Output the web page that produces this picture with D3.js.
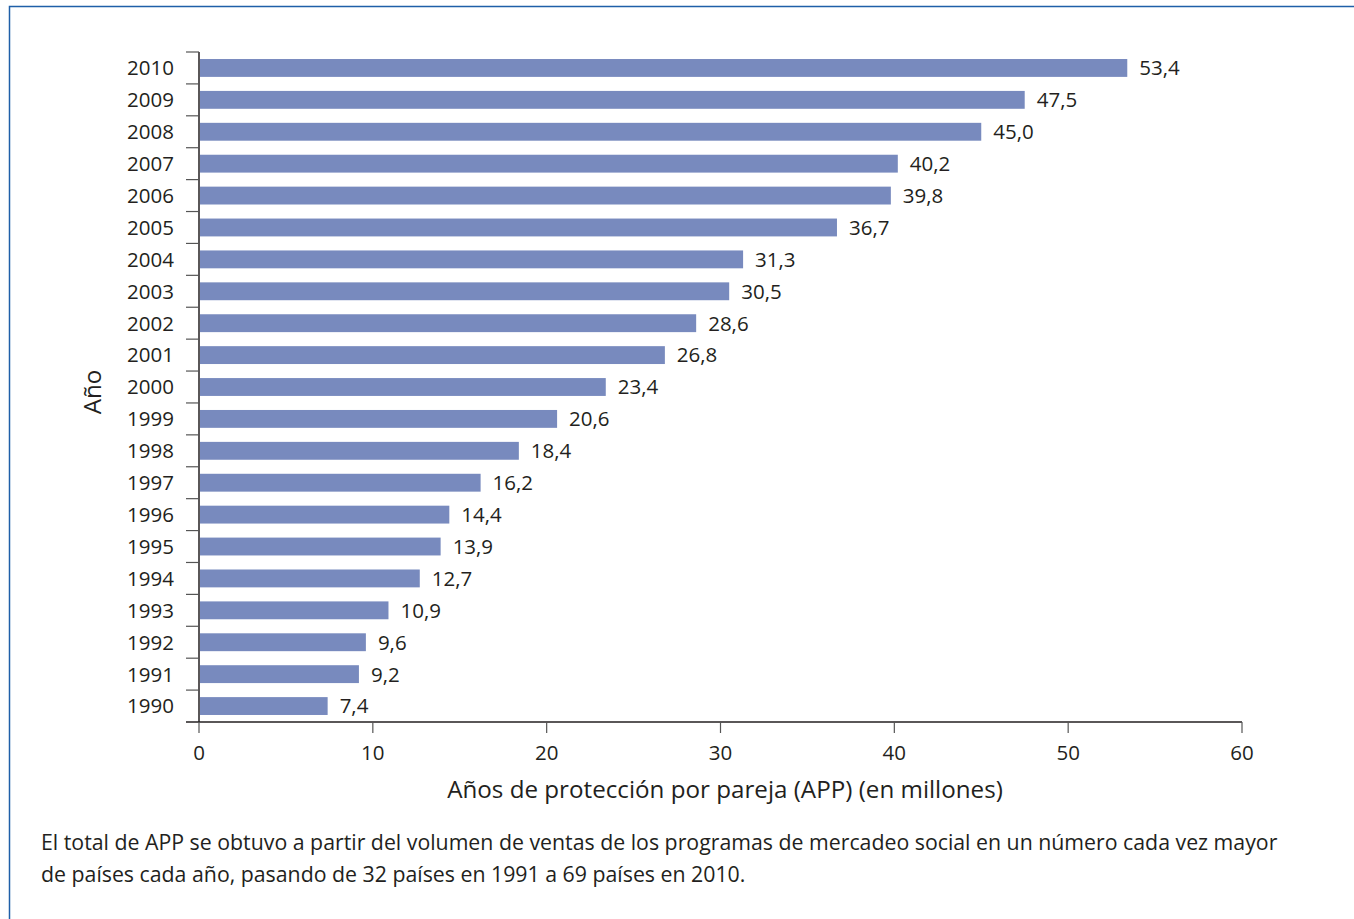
<!DOCTYPE html>
<html>
<head>
<meta charset="utf-8">
<script src="https://cdn.jsdelivr.net/npm/d3@7"></script>
<style>
    body { margin: 0; background: #fff; }
    svg text { font-family: "Open Sans", "Noto Sans", sans-serif; fill: #231f20; }
</style>
</head>
<body>
<div id="chart"></div>
<script>
//Data
const years = ["2010", "2009", "2008", "2007", "2006", "2005", "2004", "2003", "2002", "2001", "2000",
    "1999", "1998", "1997", "1996", "1995", "1994", "1993", "1992", "1991", "1990"];
const appValues = [53.4, 47.5, 45.0, 40.2, 39.8, 36.7, 31.3, 30.5, 28.6, 26.8, 23.4,
    20.6, 18.4, 16.2, 14.4, 13.9, 12.7, 10.9, 9.6, 9.2, 7.4];
const xTicks = [0, 10, 20, 30, 40, 50, 60];
const xTitle = "Años de protección por pareja (APP) (en millones)";
const yTitle = "Año";
const note = [
    "El total de APP se obtuvo a partir del volumen de ventas de los programas de mercadeo social en un número cada vez mayor",
    "de países cada año, pasando de 32 países en 1991 a 69 países en 2010."
];

const width = 1354, height = 919;
const margin = { top: 52, left: 199, right: 112, bottom: 197 };

const svg = d3.select("#chart").append("svg")
    .attr("width", width)
    .attr("height", height);

//frame lines top and left
svg.append("path")
    .attr("d", `M9.5,${height} L9.5,6.5 L${width},6.5`)
    .attr("fill", "none")
    .attr("stroke", "#1f5fa8")
    .attr("stroke-width", 1.5);

const x = d3.scaleLinear()
    .domain([0, 60])
    .range([margin.left, width - margin.right]);

const y = d3.scaleBand()
    .domain(years)
    .range([margin.top, height - margin.bottom])
    .paddingInner(0.44)
    .paddingOuter(0.22);

const data = years.map((k, i) => ({ key: k, value: appValues[i] }));

svg.selectAll("rect.bar")
    .data(data)
    .enter()
    .append("rect")
    .attr("class", "bar")
    .attr("x", x(0) + 1)
    .attr("y", d => y(d.key))
    .attr("width", d => x(d.value) - x(0) - 1)
    .attr("height", y.bandwidth())
    .attr("fill", "#788abe");

svg.selectAll("text.val")
    .data(data)
    .enter()
    .append("text")
    .attr("class", "val")
    .attr("x", d => x(d.value) + 12)
    .attr("y", d => y(d.key) + y.bandwidth() / 2)
    .attr("dy", "0.36em")
    .attr("font-size", 20.5)
    .text(d => d.value.toFixed(1).replace(".", ","));

//y axis: labels + ticks between bands
const yAxisG = svg.append("g");
yAxisG.append("line")
    .attr("x1", x(0)).attr("x2", x(0))
    .attr("y1", margin.top).attr("y2", height - margin.bottom)
    .attr("stroke", "#231f20").attr("stroke-width", 1.5);

const step = y.step();
const bounds = d3.range(years.length).map(i => margin.top + i * step);
yAxisG.selectAll("line.tick")
    .data(bounds)
    .enter()
    .append("line")
    .attr("class", "tick")
    .attr("x1", x(0) - 13).attr("x2", x(0))
    .attr("y1", d => d).attr("y2", d => d)
    .attr("stroke", "#555").attr("stroke-width", 1.2);

yAxisG.selectAll("text")
    .data(years)
    .enter()
    .append("text")
    .attr("x", x(0) - 25)
    .attr("y", d => y(d) + y.bandwidth() / 2)
    .attr("dy", "0.36em")
    .attr("text-anchor", "end")
    .attr("font-size", 20.5)
    .text(d => d);

//x axis
const xAxisG = svg.append("g")
    .attr("transform", `translate(0,${height - margin.bottom})`);
xAxisG.append("line")
    .attr("x1", x(0) - 13).attr("x2", x(60))
    .attr("y1", 0).attr("y2", 0)
    .attr("stroke", "#231f20").attr("stroke-width", 1.5);
xAxisG.selectAll("line.tick")
    .data(xTicks)
    .enter()
    .append("line")
    .attr("class", "tick")
    .attr("x1", d => x(d)).attr("x2", d => x(d))
    .attr("y1", 0).attr("y2", 11)
    .attr("stroke", "#555").attr("stroke-width", 1.2);
xAxisG.selectAll("text")
    .data(xTicks)
    .enter()
    .append("text")
    .attr("x", d => x(d))
    .attr("y", 38)
    .attr("text-anchor", "middle")
    .attr("font-size", 20.5)
    .text(d => d);

svg.append("text")
    .attr("x", 725)
    .attr("y", 798)
    .attr("text-anchor", "middle")
    .attr("font-size", 24.2)
    .text(xTitle);

svg.append("text")
    .attr("transform", "translate(101,392) rotate(-90)")
    .attr("text-anchor", "middle")
    .attr("font-size", 24.2)
    .text(yTitle);

svg.selectAll("text.note")
    .data(note)
    .enter()
    .append("text")
    .attr("class", "note")
    .attr("x", 41)
    .attr("y", (d, i) => 850 + i * 32)
    .attr("font-size", 21.3)
    .text(d => d);
</script>
</body>
</html>
